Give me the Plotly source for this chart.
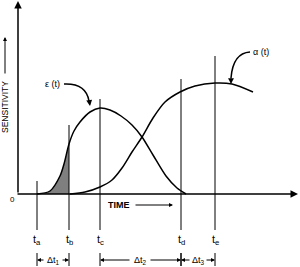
import plotly.graph_objects as go

# ---- data (time in arbitrary units, sensitivity upward from baseline 0) ----
eps_t = [37, 50, 60, 64, 69, 74, 80, 90, 100, 110, 121, 132, 142, 153, 166, 177, 186]
eps_s = [0, 3, 18, 30, 50, 63, 72, 82, 86, 84, 78, 69, 57, 39, 18, 6, 0]
alpha_t = [70, 85, 100, 112, 122, 132, 142, 153, 165, 180, 195, 215, 232, 253]
alpha_s = [0, 2, 7, 14, 26, 42, 57, 76, 92, 102, 108, 111, 110, 102]
mark_t = [37, 69, 100, 181, 215]
mark_top = [13, 69, 95, 115, 138]
mark_labels = ["t<sub>a</sub>", "t<sub>b</sub>", "t<sub>c</sub>", "t<sub>d</sub>", "t<sub>e</sub>"]
delta_labels = ["Δt<sub>1</sub>", "Δt<sub>2</sub>", "Δt<sub>3</sub>"]
delta_pairs = [(0, 1), (2, 3), (3, 4)]
delta_text_x = [53, 140, 198]
delta_half = [8, 9, 7]

FONT = "Liberation Sans, Arial, sans-serif"
fig = go.Figure()

# shaded area under eps between ta and tb
sh_t = [t for t in eps_t if t <= mark_t[1]]
sh_s = [s for t, s in zip(eps_t, eps_s) if t <= mark_t[1]]
fig.add_trace(go.Scatter(x=sh_t, y=sh_s, fill="tozeroy",
                         fillcolor="#7f7f7f", line=dict(width=0, shape="spline", smoothing=0.8),
                         mode="lines", hoverinfo="skip"))
fig.add_trace(go.Scatter(x=eps_t, y=eps_s, mode="lines",
                         line=dict(color="black", width=1.5, shape="spline", smoothing=0.8), hoverinfo="skip"))
fig.add_trace(go.Scatter(x=alpha_t, y=alpha_s, mode="lines",
                         line=dict(color="black", width=1.5, shape="spline", smoothing=0.8), hoverinfo="skip"))

shapes = []
ann = []
# vertical time markers
for t, top, lab in zip(mark_t, mark_top, mark_labels):
    shapes.append(dict(type="line", x0=t, x1=t, y0=-36, y1=top, xref="x", yref="y",
                       line=dict(color="black", width=1)))
    ann.append(dict(x=t, y=-46, text=lab, showarrow=False, xref="x", yref="y",
                    font=dict(family=FONT, size=11, color="black")))

# delta intervals
for (i, j), lab, tx, hw in zip(delta_pairs, delta_labels, delta_text_x, delta_half):
    a, b = mark_t[i], mark_t[j]
    for t in (a, b):
        shapes.append(dict(type="line", x0=t, x1=t, y0=-59, y1=-72, xref="x", yref="y",
                           line=dict(color="black", width=1)))
    ann.append(dict(x=tx, y=-66, text=lab, showarrow=False, xref="x", yref="y",
                    font=dict(family=FONT, size=9, color="black")))
    ann.append(dict(x=a, y=-66, ax=tx - hw, ay=-66, axref="x", ayref="y", xref="x", yref="y",
                    text="", showarrow=True, arrowhead=2, arrowsize=0.8, arrowwidth=1, arrowcolor="black"))
    ann.append(dict(x=b, y=-66, ax=tx + hw, ay=-66, axref="x", ayref="y", xref="x", yref="y",
                    text="", showarrow=True, arrowhead=2, arrowsize=0.8, arrowwidth=1, arrowcolor="black"))

# axes with arrows
ann.append(dict(x=18, y=193, ax=18, ay=0, axref="x", ayref="y", xref="x", yref="y", text="",
                showarrow=True, arrowhead=2, arrowsize=1, arrowwidth=1.5, arrowcolor="black"))
ann.append(dict(x=298, y=0, ax=16, ay=0, axref="x", ayref="y", xref="x", yref="y", text="",
                showarrow=True, arrowhead=2, arrowsize=1, arrowwidth=1.5, arrowcolor="black"))
ann.append(dict(x=12, y=-5, text="0", showarrow=False, xref="x", yref="y",
                font=dict(family=FONT, size=8, color="black")))
# TIME label + arrow
ann.append(dict(x=119, y=-11, text="<b>TIME</b>", showarrow=False, xref="x", yref="y",
                font=dict(family=FONT, size=9, color="black")))
ann.append(dict(x=173, y=-11, ax=134, ay=-11, axref="x", ayref="y", xref="x", yref="y", text="",
                showarrow=True, arrowhead=2, arrowsize=0.8, arrowwidth=1, arrowcolor="black"))
# SENSITIVITY label + arrow
ann.append(dict(x=5, y=87, text="SENSITIVITY", textangle=-90, showarrow=False, xref="x", yref="y",
                font=dict(family=FONT, size=8.5, color="black")))
ann.append(dict(x=5, y=157, ax=5, ay=119, axref="x", ayref="y", xref="x", yref="y", text="",
                showarrow=True, arrowhead=2, arrowsize=0.8, arrowwidth=1, arrowcolor="black"))

# curve labels with curved pointers
ann.append(dict(x=52, y=110, text="ε (t)", showarrow=False, xref="x", yref="y",
                font=dict(family=FONT, size=9, color="black")))
shapes.append(dict(type="path", path="M 64,110 Q 86,111 89,93", xref="x", yref="y",
                   line=dict(color="black", width=1.5)))
ann.append(dict(x=90, y=88, ax=89, ay=95, axref="x", ayref="y", xref="x", yref="y", text="",
                showarrow=True, arrowhead=2, arrowsize=0.9, arrowwidth=1.3, arrowcolor="black"))
ann.append(dict(x=261, y=142, text="α (t)", showarrow=False, xref="x", yref="y",
                font=dict(family=FONT, size=9, color="black")))
shapes.append(dict(type="path", path="M 250,142 Q 233,141 231,116", xref="x", yref="y",
                   line=dict(color="black", width=1.5)))
ann.append(dict(x=231, y=110, ax=231, ay=117, axref="x", ayref="y", xref="x", yref="y", text="",
                showarrow=True, arrowhead=2, arrowsize=0.9, arrowwidth=1.3, arrowcolor="black"))

fig.update_layout(
    width=300, height=267, margin=dict(l=0, r=0, t=0, b=0),
    paper_bgcolor="white", plot_bgcolor="white", showlegend=False,
    xaxis=dict(range=[0, 300], visible=False, fixedrange=True),
    yaxis=dict(range=[-73, 194], visible=False, fixedrange=True),
    shapes=shapes, annotations=ann,
)
fig.write_html("out.html")
